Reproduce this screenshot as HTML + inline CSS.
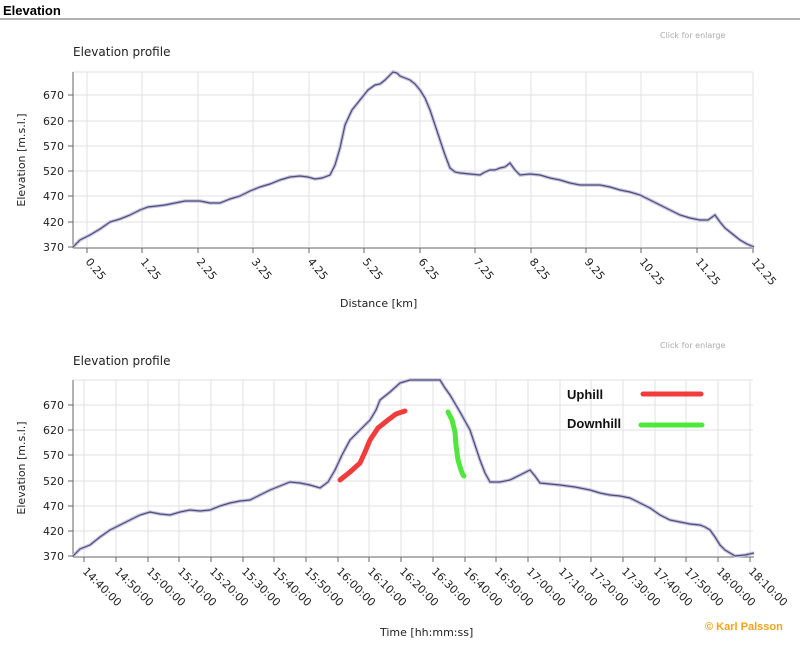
<!DOCTYPE html>
<html><head><meta charset="utf-8"><style>
body{margin:0;background:#fff;width:800px;height:643px;overflow:hidden;font-family:"DejaVu Sans","Liberation Sans",sans-serif}
</style></head><body>
<svg width="800" height="643" xmlns="http://www.w3.org/2000/svg" font-family="DejaVu Sans, Liberation Sans, sans-serif">
<text x="3" y="15" font-size="13" font-weight="bold" fill="#000" font-family="Liberation Sans, sans-serif">Elevation</text>
<line x1="0" y1="19" x2="800" y2="19" stroke="#999" stroke-width="1.5"/>
<text x="660" y="38" font-size="8" fill="#aaa">Click for enlarge</text>
<text x="660" y="348" font-size="8" fill="#aaa">Click for enlarge</text>
<text x="73" y="56" font-size="12" fill="#222">Elevation profile</text>
<text x="73" y="365" font-size="12" fill="#222">Elevation profile</text>

<!-- Top chart grid -->
<g stroke="#e2e2e2" stroke-width="1">
<line x1="87" y1="72" x2="87" y2="247"/><line x1="142" y1="72" x2="142" y2="247"/><line x1="198" y1="72" x2="198" y2="247"/><line x1="253" y1="72" x2="253" y2="247"/><line x1="309" y1="72" x2="309" y2="247"/><line x1="364" y1="72" x2="364" y2="247"/><line x1="420" y1="72" x2="420" y2="247"/><line x1="475" y1="72" x2="475" y2="247"/><line x1="531" y1="72" x2="531" y2="247"/><line x1="586" y1="72" x2="586" y2="247"/><line x1="641" y1="72" x2="641" y2="247"/><line x1="697" y1="72" x2="697" y2="247"/><line x1="753" y1="72" x2="753" y2="247"/>
<line x1="73" y1="72" x2="753" y2="72"/><line x1="73" y1="95" x2="753" y2="95"/><line x1="73" y1="121" x2="753" y2="121"/><line x1="73" y1="146" x2="753" y2="146"/><line x1="73" y1="171" x2="753" y2="171"/><line x1="73" y1="196" x2="753" y2="196"/><line x1="73" y1="222" x2="753" y2="222"/>
</g>
<g stroke="#666" stroke-width="1">
<line x1="73" y1="72" x2="73" y2="248"/><line x1="73" y1="248" x2="754" y2="248"/>
<line x1="68" y1="95" x2="73" y2="95"/><line x1="68" y1="121" x2="73" y2="121"/><line x1="68" y1="146" x2="73" y2="146"/><line x1="68" y1="171" x2="73" y2="171"/><line x1="68" y1="196" x2="73" y2="196"/><line x1="68" y1="222" x2="73" y2="222"/><line x1="68" y1="247" x2="73" y2="247"/>
<line x1="87" y1="248" x2="87" y2="253"/><line x1="142" y1="248" x2="142" y2="253"/><line x1="198" y1="248" x2="198" y2="253"/><line x1="253" y1="248" x2="253" y2="253"/><line x1="309" y1="248" x2="309" y2="253"/><line x1="364" y1="248" x2="364" y2="253"/><line x1="420" y1="248" x2="420" y2="253"/><line x1="475" y1="248" x2="475" y2="253"/><line x1="531" y1="248" x2="531" y2="253"/><line x1="586" y1="248" x2="586" y2="253"/><line x1="641" y1="248" x2="641" y2="253"/><line x1="697" y1="248" x2="697" y2="253"/><line x1="753" y1="248" x2="753" y2="253"/>
</g>
<g font-size="11" fill="#222" text-anchor="end">
<text x="64" y="99">670</text><text x="64" y="125">620</text><text x="64" y="150">570</text><text x="64" y="175">520</text><text x="64" y="200">470</text><text x="64" y="226">420</text><text x="64" y="251">370</text>
</g>
<text transform="translate(25,160) rotate(-90)" font-size="11" fill="#222" text-anchor="middle">Elevation [m.s.l.]</text>
<g font-size="11" fill="#222">
<text transform="translate(85,262) rotate(50)">0.25</text><text transform="translate(140,262) rotate(50)">1.25</text><text transform="translate(196,262) rotate(50)">2.25</text><text transform="translate(251,262) rotate(50)">3.25</text><text transform="translate(307,262) rotate(50)">4.25</text><text transform="translate(362,262) rotate(50)">5.25</text><text transform="translate(418,262) rotate(50)">6.25</text><text transform="translate(473,262) rotate(50)">7.25</text><text transform="translate(529,262) rotate(50)">8.25</text><text transform="translate(584,262) rotate(50)">9.25</text><text transform="translate(639,262) rotate(50)">10.25</text><text transform="translate(695,262) rotate(50)">11.25</text><text transform="translate(751,262) rotate(50)">12.25</text>
</g>
<text x="340" y="307" font-size="11" fill="#222">Distance [km]</text>
<polyline fill="none" stroke="#c5c3dd" stroke-width="3.5" points="73,247 80,240 90,235 100,229 110,222 120,219 130,215 140,210 148,207 157,206 165,205 175,203 185,201 200,201 210,203 220,203 230,199 240,196 250,191 260,187 270,184 280,180 290,177 300,176 308,177 315,179 322,178 330,175 335,165 340,148 345,125 352,110 360,100 368,90 375,85 380,84 385,80 390,75 393,72 397,73 400,76 405,78 410,80 415,84 420,90 425,98 430,110 435,125 440,140 445,155 450,168 455,172 460,173 470,174 480,175 485,172 490,170 495,170 500,168 505,167 510,163 515,170 520,175 530,174 540,175 550,178 560,180 570,183 580,185 590,185 600,185 610,187 620,190 630,192 640,195 650,200 660,205 670,210 680,215 690,218 700,220 708,220 715,215 720,222 725,228 730,232 735,236 740,240 747,244 754,247"/>
<polyline fill="none" stroke="#4f4b7c" stroke-width="1.2" points="73,247 80,240 90,235 100,229 110,222 120,219 130,215 140,210 148,207 157,206 165,205 175,203 185,201 200,201 210,203 220,203 230,199 240,196 250,191 260,187 270,184 280,180 290,177 300,176 308,177 315,179 322,178 330,175 335,165 340,148 345,125 352,110 360,100 368,90 375,85 380,84 385,80 390,75 393,72 397,73 400,76 405,78 410,80 415,84 420,90 425,98 430,110 435,125 440,140 445,155 450,168 455,172 460,173 470,174 480,175 485,172 490,170 495,170 500,168 505,167 510,163 515,170 520,175 530,174 540,175 550,178 560,180 570,183 580,185 590,185 600,185 610,187 620,190 630,192 640,195 650,200 660,205 670,210 680,215 690,218 700,220 708,220 715,215 720,222 725,228 730,232 735,236 740,240 747,244 754,247"/>

<!-- Bottom chart grid -->
<g stroke="#e2e2e2" stroke-width="1">
<line x1="84" y1="380" x2="84" y2="556"/><line x1="116" y1="380" x2="116" y2="556"/><line x1="148" y1="380" x2="148" y2="556"/><line x1="179" y1="380" x2="179" y2="556"/><line x1="211" y1="380" x2="211" y2="556"/><line x1="243" y1="380" x2="243" y2="556"/><line x1="274" y1="380" x2="274" y2="556"/><line x1="306" y1="380" x2="306" y2="556"/><line x1="338" y1="380" x2="338" y2="556"/><line x1="369" y1="380" x2="369" y2="556"/><line x1="401" y1="380" x2="401" y2="556"/><line x1="433" y1="380" x2="433" y2="556"/><line x1="465" y1="380" x2="465" y2="556"/><line x1="496" y1="380" x2="496" y2="556"/><line x1="528" y1="380" x2="528" y2="556"/><line x1="560" y1="380" x2="560" y2="556"/><line x1="591" y1="380" x2="591" y2="556"/><line x1="623" y1="380" x2="623" y2="556"/><line x1="655" y1="380" x2="655" y2="556"/><line x1="686" y1="380" x2="686" y2="556"/><line x1="718" y1="380" x2="718" y2="556"/><line x1="750" y1="380" x2="750" y2="556"/>
<line x1="73" y1="380" x2="753" y2="380"/><line x1="73" y1="405" x2="753" y2="405"/><line x1="73" y1="430" x2="753" y2="430"/><line x1="73" y1="455" x2="753" y2="455"/><line x1="73" y1="481" x2="753" y2="481"/><line x1="73" y1="506" x2="753" y2="506"/><line x1="73" y1="531" x2="753" y2="531"/>
</g>
<g stroke="#666" stroke-width="1">
<line x1="73" y1="380" x2="73" y2="557"/><line x1="73" y1="557" x2="754" y2="557"/>
<line x1="68" y1="405" x2="73" y2="405"/><line x1="68" y1="430" x2="73" y2="430"/><line x1="68" y1="455" x2="73" y2="455"/><line x1="68" y1="481" x2="73" y2="481"/><line x1="68" y1="506" x2="73" y2="506"/><line x1="68" y1="531" x2="73" y2="531"/><line x1="68" y1="556" x2="73" y2="556"/>
<line x1="84" y1="557" x2="84" y2="562"/><line x1="116" y1="557" x2="116" y2="562"/><line x1="148" y1="557" x2="148" y2="562"/><line x1="179" y1="557" x2="179" y2="562"/><line x1="211" y1="557" x2="211" y2="562"/><line x1="243" y1="557" x2="243" y2="562"/><line x1="274" y1="557" x2="274" y2="562"/><line x1="306" y1="557" x2="306" y2="562"/><line x1="338" y1="557" x2="338" y2="562"/><line x1="369" y1="557" x2="369" y2="562"/><line x1="401" y1="557" x2="401" y2="562"/><line x1="433" y1="557" x2="433" y2="562"/><line x1="465" y1="557" x2="465" y2="562"/><line x1="496" y1="557" x2="496" y2="562"/><line x1="528" y1="557" x2="528" y2="562"/><line x1="560" y1="557" x2="560" y2="562"/><line x1="591" y1="557" x2="591" y2="562"/><line x1="623" y1="557" x2="623" y2="562"/><line x1="655" y1="557" x2="655" y2="562"/><line x1="686" y1="557" x2="686" y2="562"/><line x1="718" y1="557" x2="718" y2="562"/><line x1="750" y1="557" x2="750" y2="562"/>
</g>
<g font-size="11" fill="#222" text-anchor="end">
<text x="64" y="409">670</text><text x="64" y="434">620</text><text x="64" y="459">570</text><text x="64" y="485">520</text><text x="64" y="510">470</text><text x="64" y="535">420</text><text x="64" y="560">370</text>
</g>
<text transform="translate(25,468) rotate(-90)" font-size="11" fill="#222" text-anchor="middle">Elevation [m.s.l.]</text>
<g font-size="11" fill="#222">
<text transform="translate(82,572) rotate(45)">14:40:00</text><text transform="translate(114,572) rotate(45)">14:50:00</text><text transform="translate(146,572) rotate(45)">15:00:00</text><text transform="translate(177,572) rotate(45)">15:10:00</text><text transform="translate(209,572) rotate(45)">15:20:00</text><text transform="translate(241,572) rotate(45)">15:30:00</text><text transform="translate(272,572) rotate(45)">15:40:00</text><text transform="translate(304,572) rotate(45)">15:50:00</text><text transform="translate(336,572) rotate(45)">16:00:00</text><text transform="translate(367,572) rotate(45)">16:10:00</text><text transform="translate(399,572) rotate(45)">16:20:00</text><text transform="translate(431,572) rotate(45)">16:30:00</text><text transform="translate(463,572) rotate(45)">16:40:00</text><text transform="translate(494,572) rotate(45)">16:50:00</text><text transform="translate(526,572) rotate(45)">17:00:00</text><text transform="translate(558,572) rotate(45)">17:10:00</text><text transform="translate(589,572) rotate(45)">17:20:00</text><text transform="translate(621,572) rotate(45)">17:30:00</text><text transform="translate(653,572) rotate(45)">17:40:00</text><text transform="translate(684,572) rotate(45)">17:50:00</text><text transform="translate(716,572) rotate(45)">18:00:00</text><text transform="translate(748,572) rotate(45)">18:10:00</text>
</g>
<text x="380" y="636" font-size="11" fill="#222">Time  [hh:mm:ss]</text>
<text x="705" y="630" font-size="11" font-weight="bold" fill="#f5a31a" font-family="Liberation Sans, sans-serif">© Karl Palsson</text>
<polyline fill="none" stroke="#c5c3dd" stroke-width="3.5" points="73,556 80,549 90,545 100,537 110,530 120,525 130,520 140,515 150,512 160,514 170,515 180,512 190,510 200,511 210,510 220,506 230,503 240,501 250,500 260,495 270,490 280,486 290,482 300,483 310,485 320,488 328,482 335,470 342,455 350,440 360,430 370,420 376,410 380,400 390,392 400,383 410,380 425,380 440,380 445,388 450,395 460,412 470,430 475,445 480,460 485,473 490,482 500,482 510,480 520,475 530,470 535,476 540,483 550,484 560,485 575,487 590,490 600,493 610,495 620,496 630,498 640,503 650,508 660,515 670,520 680,522 690,524 700,525 705,527 710,530 715,537 720,545 725,550 735,556 745,555 754,553"/>
<polyline fill="none" stroke="#4f4b7c" stroke-width="1.2" points="73,556 80,549 90,545 100,537 110,530 120,525 130,520 140,515 150,512 160,514 170,515 180,512 190,510 200,511 210,510 220,506 230,503 240,501 250,500 260,495 270,490 280,486 290,482 300,483 310,485 320,488 328,482 335,470 342,455 350,440 360,430 370,420 376,410 380,400 390,392 400,383 410,380 425,380 440,380 445,388 450,395 460,412 470,430 475,445 480,460 485,473 490,482 500,482 510,480 520,475 530,470 535,476 540,483 550,484 560,485 575,487 590,490 600,493 610,495 620,496 630,498 640,503 650,508 660,515 670,520 680,522 690,524 700,525 705,527 710,530 715,537 720,545 725,550 735,556 745,555 754,553"/>
<polyline fill="none" stroke="#f23c3c" stroke-width="5" stroke-linecap="round" stroke-linejoin="round" points="340,480 350,472 360,463 365,452 370,440 378,428 388,420 396,414 405,411"/>
<polyline fill="none" stroke="#4de83a" stroke-width="5" stroke-linecap="round" stroke-linejoin="round" points="448,412 452,420 455,432 456,445 458,460 461,470 463,475 464,476"/>
<text x="567" y="399" font-size="13" font-weight="bold" fill="#111" font-family="Liberation Sans, sans-serif">Uphill</text>
<text x="567" y="428" font-size="13" font-weight="bold" fill="#111" font-family="Liberation Sans, sans-serif">Downhill</text>
<line x1="643" y1="394" x2="701" y2="394" stroke="#f23c3c" stroke-width="5" stroke-linecap="round"/>
<line x1="641" y1="425" x2="702" y2="425" stroke="#4de83a" stroke-width="5" stroke-linecap="round"/>
</svg>
</body></html>
